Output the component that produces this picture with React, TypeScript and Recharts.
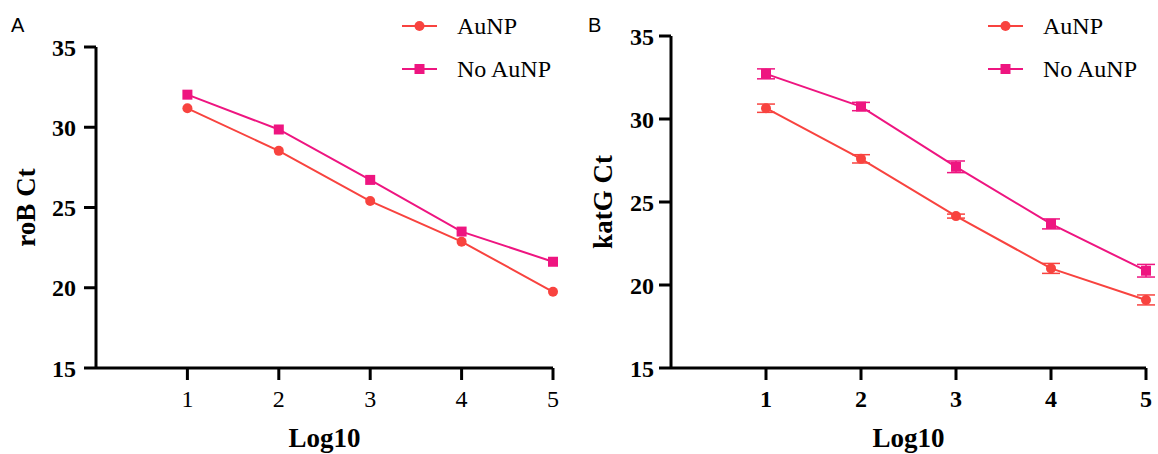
import { LineChart, Line, XAxis, YAxis, ErrorBar } from "recharts";

// x positions (log10 of copies)
const log10 = [1, 2, 3, 4, 5];

// panel A: roB
const robAuNP = [31.18, 28.53, 25.4, 22.87, 19.75];
const robNoAuNP = [32.03, 29.86, 26.72, 23.5, 21.62];

// panel B: katG (mean and error)
const katgAuNP = [30.65, 27.6, 24.15, 21.0, 19.1];
const katgAuNPErr = [0.25, 0.25, 0.12, 0.3, 0.3];
const katgNoAuNP = [32.72, 30.75, 27.12, 23.68, 20.86];
const katgNoAuNPErr = [0.3, 0.25, 0.35, 0.3, 0.38];

const yTicks = [15, 20, 25, 30, 35];
const xTicks = [1, 2, 3, 4, 5];

const seriesNames = ["AuNP", "No AuNP"];
const RED = "#F8433F";
const PINK = "#EE1580";

const SERIF = '"Liberation Serif", "Times New Roman", serif';
const SANS = '"Liberation Sans", Arial, sans-serif';

const rowsA = log10.map((x, i) => ({ x, a: robAuNP[i], b: robNoAuNP[i] }));
const rowsB = log10.map((x, i) => ({
  x,
  a: katgAuNP[i],
  aErr: katgAuNPErr[i],
  b: katgNoAuNP[i],
  bErr: katgNoAuNPErr[i],
}));

const squareDot = (color: string) => (p: any) => (
  <rect
    key={`sq-${p.index}`}
    x={p.cx - 5}
    y={p.cy - 5}
    width={10}
    height={10}
    fill={color}
  />
);

type PanelProps = {
  data: any[];
  width: number;
  marginTop: number;
  marginRight: number;
  yWidth: number;
  yTitle: string;
  yTitleX: number;
  boldX: boolean;
  yTickMargin: number;
  errors: boolean;
};

const Panel = ({
  data,
  width,
  marginTop,
  marginRight,
  yWidth,
  yTitle,
  yTitleX,
  boldX,
  yTickMargin,
  errors,
}: PanelProps) => (
  <LineChart
    width={width}
    height={454}
    data={data}
    margin={{ top: marginTop, right: marginRight, bottom: 0, left: 0 }}
  >
    <XAxis
      dataKey="x"
      type="number"
      domain={[0, 5]}
      ticks={xTicks}
      height={86}
      tickSize={12}
      tickMargin={10}
      stroke="#000"
      strokeWidth={3}
      tick={{
        fontFamily: SERIF,
        fontSize: 24,
        fontWeight: boldX ? "bold" : "normal",
        fill: "#000",
      }}
      label={(p: any) => (
        <text
          x={p.viewBox.x + p.viewBox.width / 2}
          y={p.viewBox.y + 79}
          textAnchor="middle"
          fontFamily={SERIF}
          fontSize={27}
          fontWeight="bold"
          fill="#000"
        >
          Log10
        </text>
      )}
    />
    <YAxis
      type="number"
      domain={[15, 35]}
      ticks={yTicks}
      width={yWidth}
      tickSize={12}
      tickMargin={yTickMargin}
      stroke="#000"
      strokeWidth={3}
      tick={{ fontFamily: SERIF, fontSize: 24, fontWeight: "bold", fill: "#000" }}
      label={(p: any) => {
        const cx = p.viewBox.x + yTitleX;
        const cy = p.viewBox.y + p.viewBox.height / 2;
        return (
          <text
            x={cx}
            y={cy}
            transform={`rotate(-90, ${cx}, ${cy})`}
            textAnchor="middle"
            fontFamily={SERIF}
            fontSize={27}
            fontWeight="bold"
            fill="#000"
          >
            {yTitle}
          </text>
        );
      }}
    />
    <Line
      dataKey="a"
      stroke={RED}
      strokeWidth={2}
      dot={{ r: 5, fill: RED, stroke: RED, strokeWidth: 0 }}
      isAnimationActive={false}
    >
      {errors && (
        <ErrorBar
          dataKey="aErr"
          width={9}
          strokeWidth={1.5}
          stroke={RED}
          direction="y"
        />
      )}
    </Line>
    <Line
      dataKey="b"
      stroke={PINK}
      strokeWidth={2}
      dot={squareDot(PINK)}
      isAnimationActive={false}
    >
      {errors && (
        <ErrorBar
          dataKey="bErr"
          width={9}
          strokeWidth={1.5}
          stroke={PINK}
          direction="y"
        />
      )}
    </Line>
  </LineChart>
);

const LegendBlock = ({ x0, x1, textX }: { x0: number; x1: number; textX: number }) => {
  const mid = (x0 + x1) / 2;
  return (
    <g>
      <line x1={x0} x2={x1} y1={26} y2={26} stroke={RED} strokeWidth={2} />
      <circle cx={mid} cy={26} r={5} fill={RED} />
      <text x={textX} y={34} fontFamily={SERIF} fontSize={24} fill="#000">
        {seriesNames[0]}
      </text>
      <line x1={x0} x2={x1} y1={69} y2={69} stroke={PINK} strokeWidth={2} />
      <rect x={mid - 5} y={64} width={10} height={10} fill={PINK} />
      <text x={textX} y={77} fontFamily={SERIF} fontSize={24} fill="#000">
        {seriesNames[1]}
      </text>
    </g>
  );
};

export default function App() {
  return (
    <div
      style={{
        position: "absolute",
        left: 0,
        top: 0,
        width: 1158,
        height: 454,
        background: "#fff",
      }}
    >
      <div style={{ position: "absolute", left: 0, top: 0 }}>
        <Panel
          data={rowsA}
          width={580}
          marginTop={47}
          marginRight={27}
          yWidth={96}
          yTitle="roB Ct"
          yTitleX={35}
          boldX={false}
          yTickMargin={8}
          errors={false}
        />
      </div>
      <div style={{ position: "absolute", left: 580, top: 0 }}>
        <Panel
          data={rowsB}
          width={578}
          marginTop={36}
          marginRight={12}
          yWidth={91}
          yTitle="katG Ct"
          yTitleX={32}
          boldX={true}
          yTickMargin={5}
          errors={true}
        />
      </div>
      <svg
        width={1158}
        height={454}
        style={{ position: "absolute", left: 0, top: 0, pointerEvents: "none" }}
      >
        <text x={11} y={32} fontFamily={SANS} fontSize={20} fill="#000">
          A
        </text>
        <text x={588} y={32} fontFamily={SANS} fontSize={20} fill="#000">
          B
        </text>
        <LegendBlock x0={402} x1={437} textX={457} />
        <LegendBlock x0={988} x1={1023} textX={1043} />
      </svg>
    </div>
  );
}
